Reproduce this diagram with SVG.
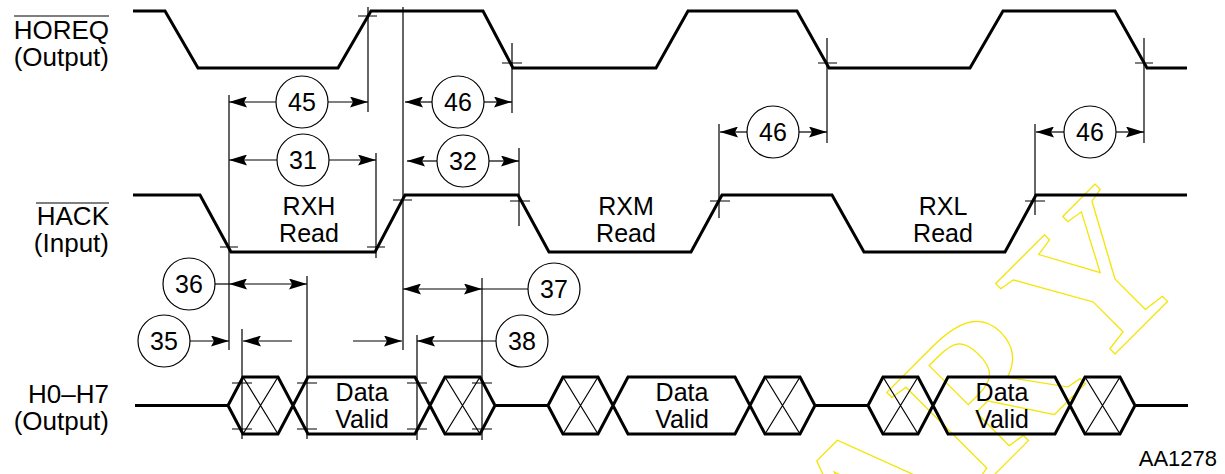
<svg xmlns="http://www.w3.org/2000/svg" width="1225" height="474" viewBox="0 0 1225 474">
<style>
text{font-family:"Liberation Sans",Arial,sans-serif;fill:#000}
.lblr{font-size:26px;text-anchor:end}
.mid{font-size:25px;text-anchor:middle}
.num{font-size:25px;text-anchor:middle}
.wave{fill:none;stroke:#000;stroke-width:3;stroke-linejoin:miter}
.thin{fill:none;stroke:#000;stroke-width:1.2}
.arr{fill:none;stroke:#000;stroke-width:1.2;marker-end:url(#ah)}
.arr2{fill:none;stroke:#000;stroke-width:1.2;marker-start:url(#ah);marker-end:url(#ah)}
.c{fill:#fff;stroke:#000;stroke-width:1.2}
.wm{fill:none;stroke:#f5e400;stroke-width:1.2;font-family:"Liberation Serif","Times New Roman",serif;font-size:205px;font-weight:bold;font-kerning:none;letter-spacing:6px}
</style>
<defs>
<marker id="ah" viewBox="0 0 18 11" refX="18" refY="5.5" markerWidth="18" markerHeight="11" markerUnits="userSpaceOnUse" orient="auto-start-reverse"><path d="M0,0 L18,5.5 L0,11 L3,5.5 Z" fill="#000"/></marker>
</defs>
<rect width="1225" height="474" fill="#fff"/>
<g id="watermark"><text class="wm" transform="translate(1197,272) rotate(-45)" text-anchor="end">ARY</text></g>

<g id="labels">
<text class="lblr" x="109" y="39">HOREQ</text><line class="thin" x1="14" y1="16" x2="109" y2="16" stroke-width="1.5"/>
<text class="lblr" x="109" y="66">(Output)</text>
<text class="lblr" x="109" y="225">HACK</text><line class="thin" x1="36" y1="203" x2="109" y2="203" stroke-width="1.5"/>
<text class="lblr" x="109" y="252">(Input)</text>
<text class="lblr" x="109" y="403">H0–H7</text>
<text class="lblr" x="109" y="430">(Output)</text>
<text class="lblr" x="1217" y="466" style="font-size:22px">AA1278</text>
</g>

<g id="horeq"><path class="wave" d="M133,11 H165 L198,68 H338 L371,11 H483 L513,68 H656 L688,11 H797 L829,68 H970 L1003,11 H1115 L1147,68 H1187"/></g>

<g id="hack"><path class="wave" d="M133,195 H200 L231,252 H375 L405,195 H518 L549,252 H691 L722,195 H832 L864,252 H1005 L1036,195 H1187"/>
<text class="mid" x="309" y="215">RXH</text><text class="mid" x="309" y="242">Read</text>
<text class="mid" x="626" y="215">RXM</text><text class="mid" x="626" y="242">Read</text>
<text class="mid" x="943" y="215">RXL</text><text class="mid" x="943" y="242">Read</text>
</g>

<g id="data-bus">
<path class="wave" d="M135,405.5 H228 M495,405.5 H548 M815,405.5 H868 M1135,405.5 H1188"/>
<path class="wave" d="M228,405.5 L243,377 H278 L308,434 H415 L445,377 H480 L495,405.5 L480,434 H445 L415,377 H308 L278,434 H243 Z"/>
<path class="thin" d="M243,377 L278,434 M278,377 L243,434 M445,377 L480,434 M480,377 L445,434"/>
<path class="wave" d="M548,405.5 L563,377 H598 L628,434 H735 L765,377 H800 L815,405.5 L800,434 H765 L735,377 H628 L598,434 H563 Z"/>
<path class="thin" d="M563,377 L598,434 M598,377 L563,434 M765,377 L800,434 M800,377 L765,434"/>
<path class="wave" d="M868,405.5 L883,377 H918 L948,434 H1055 L1085,377 H1120 L1135,405.5 L1120,434 H1085 L1055,377 H948 L918,434 H883 Z"/>
<path class="thin" d="M883,377 L918,434 M918,377 L883,434 M1085,377 L1120,434 M1120,377 L1085,434"/>
<text class="mid" x="362" y="401">Data</text><text class="mid" x="362" y="428">Valid</text>
<text class="mid" x="682" y="401">Data</text><text class="mid" x="682" y="428">Valid</text>
<text class="mid" x="1002" y="401">Data</text><text class="mid" x="1002" y="428">Valid</text>
</g>

<g id="connectors">
<path class="thin" d="M229,95 V350 M368,7 V112 M376,153 V258 M403,7 V350 M512,43 V113 M519,148 V226 M719,124 V218 M827,38 V143 M1035,124 V215 M1144,38 V143 M242,329 V439 M307,276 V439 M417,335 V440 M482,278 V440"/>
<path class="thin" d="M358,16 H377 M502,63 H522 M818,63 H837 M1135,63 H1153 M220,247 H238 M367,247 H385 M393,200 H412 M510,201 H530 M710,201 H730 M1025,201 H1045 M232,383 H252 M232,429 H252 M297,383 H317 M297,429 H317 M407,383 H427 M407,429 H427 M472,383 H492 M472,429 H492"/>
<line class="arr" x1="276" y1="102" x2="229" y2="102"/><line class="arr" x1="328" y1="102" x2="368" y2="102"/>
<line class="arr" x1="277" y1="160" x2="229" y2="160"/><line class="arr" x1="329" y1="160" x2="376" y2="160"/>
<line class="arr" x1="432" y1="102" x2="405" y2="102"/><line class="arr" x1="484" y1="102" x2="512" y2="102"/>
<line class="arr" x1="437" y1="161" x2="407" y2="161"/><line class="arr" x1="489" y1="161" x2="519" y2="161"/>
<line class="arr" x1="747" y1="132" x2="720" y2="132"/><line class="arr" x1="799" y1="132" x2="827" y2="132"/>
<line class="arr" x1="1064" y1="132" x2="1036" y2="132"/><line class="arr" x1="1116" y1="132" x2="1144" y2="132"/>
<line class="thin" x1="215" y1="284" x2="229" y2="284"/><line class="arr2" x1="229" y1="284" x2="307" y2="284"/>
<line class="arr" x1="190" y1="341" x2="229" y2="341"/><line class="arr" x1="292" y1="341" x2="243" y2="341"/>
<line class="arr" x1="353" y1="341" x2="402" y2="341"/><line class="arr" x1="496" y1="341" x2="417" y2="341"/>
<line class="arr2" x1="403" y1="289" x2="482" y2="289"/><line class="thin" x1="482" y1="289" x2="528" y2="289"/>
</g>

<g id="t45"><circle class="c" cx="302" cy="102" r="26"/><text class="num" x="302" y="111">45</text></g>
<g id="t31"><circle class="c" cx="303" cy="160" r="26"/><text class="num" x="303" y="169">31</text></g>
<g id="t46a"><circle class="c" cx="458" cy="102" r="26"/><text class="num" x="458" y="111">46</text></g>
<g id="t32"><circle class="c" cx="463" cy="161" r="26"/><text class="num" x="463" y="170">32</text></g>
<g id="t46b"><circle class="c" cx="773" cy="132" r="26"/><text class="num" x="773" y="141">46</text></g>
<g id="t46c"><circle class="c" cx="1090" cy="132" r="26"/><text class="num" x="1090" y="141">46</text></g>
<g id="t36"><circle class="c" cx="189" cy="284" r="26"/><text class="num" x="189" y="293">36</text></g>
<g id="t35"><circle class="c" cx="164" cy="341" r="26"/><text class="num" x="164" y="350">35</text></g>
<g id="t37"><circle class="c" cx="554" cy="289" r="26"/><text class="num" x="554" y="298">37</text></g>
<g id="t38"><circle class="c" cx="522" cy="341" r="26"/><text class="num" x="522" y="350">38</text></g>
</svg>
